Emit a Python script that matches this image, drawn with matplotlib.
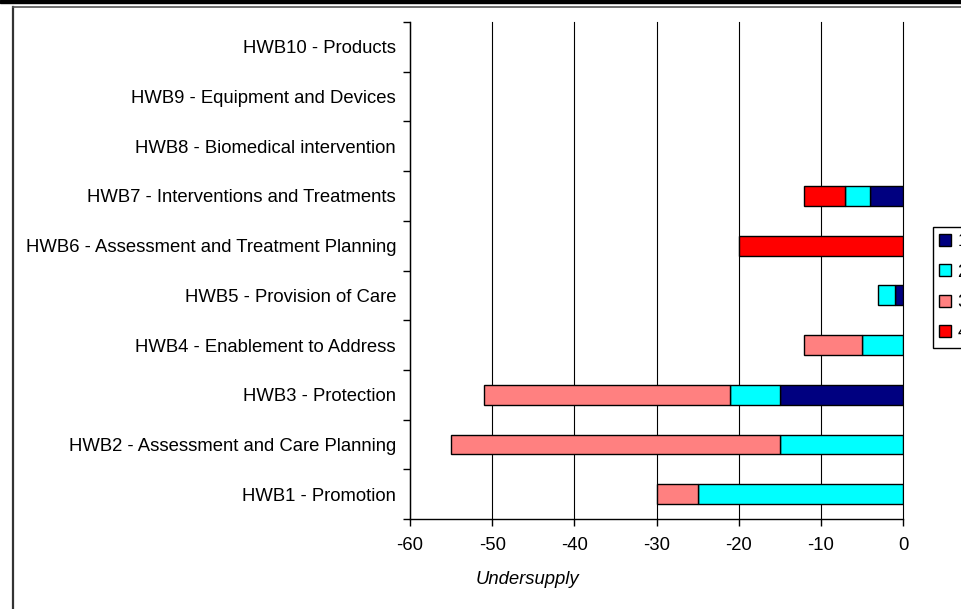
import numpy as np
import matplotlib
matplotlib.use("Agg")
import matplotlib.pyplot as plt
from matplotlib.patches import Patch, Rectangle
from matplotlib.lines import Line2D

plt.rcParams['font.family'] = ['Liberation Sans', 'DejaVu Sans']

categories = [
    "HWB1 - Promotion",
    "HWB2 - Assessment and Care Planning",
    "HWB3 - Protection",
    "HWB4 - Enablement to Address",
    "HWB5 - Provision of Care",
    "HWB6 - Assessment and Treatment Planning",
    "HWB7 - Interventions and Treatments",
    "HWB8 - Biomedical intervention",
    "HWB9 - Equipment and Devices",
    "HWB10 - Products",
]
series_names = ["1", "2", "3", "4"]
level1 = [0, 0, -15, 0, -1, 0, -4, 0, 0, 0]
level2 = [-25, -15, -6, -5, -2, 0, -3, 0, 0, 0]
level3 = [-5, -40, -30, -7, 0, 0, 0, 0, 0, 0]
level4 = [0, 0, 0, 0, 0, -20, -5, 0, 0, 0]
x_ticks = [-60, -50, -40, -30, -20, -10, 0]

colors = ["#000080", "#00FFFF", "#FF8080", "#FF0000"]
FS = 13.3

W, H = 962, 609
fig = plt.figure(figsize=(W / 100, H / 100), dpi=100)
ax = fig.add_axes([410 / W, (H - 519) / H, 493 / W, 497 / H])

y = np.arange(len(categories))
left = np.zeros(len(categories))
for vals, col in zip([level1, level2, level3, level4], colors):
    vals = np.array(vals, dtype=float)
    m = vals != 0
    ax.barh(y[m], vals[m], left=left[m], height=0.40, color=col,
            edgecolor="black", linewidth=1.0, zorder=3)
    left = left + vals

ax.set_xlim(-60, 0)
ax.set_ylim(-0.5, len(categories) - 0.5)
ax.set_xticks(x_ticks)
ax.set_xticklabels([str(v) for v in x_ticks], fontsize=FS)
ax.set_yticks(y)
ax.set_yticklabels(categories, fontsize=FS)
ax.set_yticks(np.arange(-0.5, len(categories), 1.0), minor=True)
ax.tick_params(axis="y", which="major", length=0, pad=10)
ax.tick_params(axis="y", which="minor", length=5, width=1, direction="out")
ax.tick_params(axis="x", which="major", length=5, width=1, direction="out", pad=8)

ax.grid(axis="x", color="black", linewidth=0.8)
for gl in ax.get_xgridlines():
    gl.set_clip_on(False)
ax.set_axisbelow(True)
for s in ["top", "right"]:
    ax.spines[s].set_visible(False)
for s in ["left", "bottom"]:
    ax.spines[s].set_color("black")
    ax.spines[s].set_linewidth(1.0)

fig.text(527 / W, (H - 579) / H, "Undersupply", fontsize=FS, style="italic",
         ha="center", va="center")

handles = [Patch(facecolor=c, edgecolor="black", linewidth=1.0) for c in colors]
leg = fig.legend(handles, series_names, loc="upper left",
                 bbox_to_anchor=(933 / W, (H - 227) / H), borderaxespad=0,
                 fontsize=FS, handlelength=0.62, handleheight=0.62,
                 handletextpad=0.35, labelspacing=0.72, borderpad=0.35,
                 fancybox=False, framealpha=1, edgecolor="black")
leg.get_frame().set_linewidth(1.0)

# outer frame and top band
fig.add_artist(Line2D([13 / W, 13 / W], [0, (H - 7) / H], color="#333333",
                      linewidth=1.6, transform=fig.transFigure))
fig.add_artist(Line2D([13 / W, 1], [(H - 7) / H, (H - 7) / H], color="#555555",
                      linewidth=1.2, transform=fig.transFigure))
fig.add_artist(Rectangle((0, (H - 3) / H), 1, 3 / H, color="black",
                         transform=fig.transFigure))

fig.savefig("out.png", dpi=100)
